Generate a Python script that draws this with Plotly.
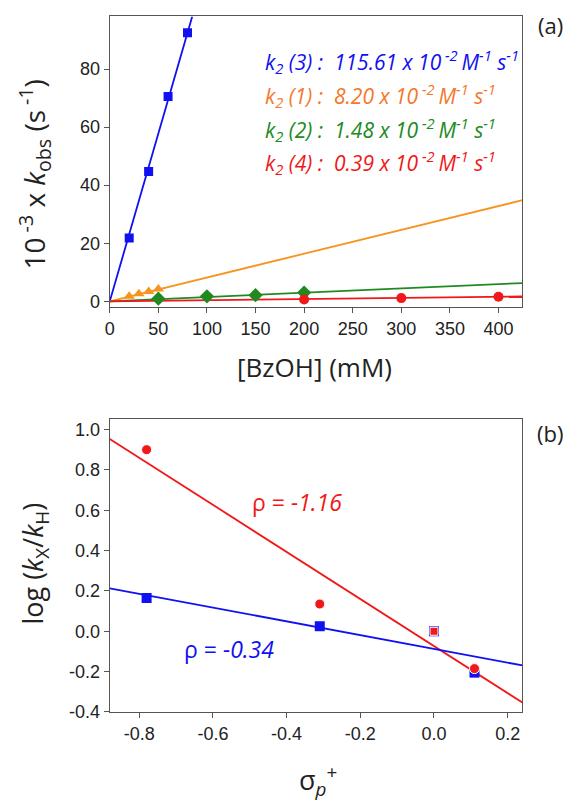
import numpy as np
import plotly.graph_objects as go

# ---------------- panel (a) data ----------------
bzoh_3 = [20, 40, 60, 80]
kobs_3 = [21.8, 44.7, 70.5, 92.5]
bzoh_1 = [20, 30, 40, 50]
kobs_1 = [1.7, 2.6, 3.4, 4.2]
bzoh_2 = [50, 100, 150, 200]
kobs_2 = [0.9, 1.7, 2.1, 3.0]
bzoh_4 = [200, 300, 400]
kobs_4 = [0.6, 1.1, 1.6]
k2_values = {"3": 115.61, "1": 8.20, "2": 1.48, "4": 0.39}   # x 10^-2 M^-1 s^-1

# ---------------- panel (b) data ----------------
sigma_p = [-0.78, -0.31, 0.0, 0.11]
log_red = [0.90, 0.135, 0.0, -0.185]
log_blue = [0.165, 0.025, 0.0, -0.205]
rho_red = -1.16
rho_blue = -0.34

BLUE = "#1010F0"
ORANGE = "#F7941D"
ORANGE_T = "#F5772A"
GREEN = "#208A20"
RED = "#F01818"
FRAME = "#555555"

XA_RANGE = [0, 424.6]
YA_RANGE = [-2.0, 98.1]
XB_RANGE = [-0.88, 0.24]
YB_RANGE = [-0.4, 1.052]

fig = go.Figure()

# fitted lines panel (a): y = k2/100 * x
for key, col in [("3", BLUE), ("1", ORANGE), ("2", GREEN), ("4", RED)]:
    s = k2_values[key] / 100.0
    xe = min(XA_RANGE[1], YA_RANGE[1] / s)
    xs = np.array([0.0, xe])
    fig.add_trace(go.Scatter(x=xs, y=s * xs, mode="lines", line=dict(color=col, width=1.8),
                             xaxis="x", yaxis="y", showlegend=False, hoverinfo="skip"))

fig.add_trace(go.Scatter(x=bzoh_1, y=kobs_1, mode="markers",
                         marker=dict(symbol="triangle-up", size=10, color=ORANGE, opacity=1), xaxis="x", yaxis="y", showlegend=False))
fig.add_trace(go.Scatter(x=bzoh_2, y=kobs_2, mode="markers",
                         marker=dict(symbol="diamond", size=11, color=GREEN, opacity=1), xaxis="x", yaxis="y", showlegend=False))
fig.add_trace(go.Scatter(x=bzoh_4, y=kobs_4, mode="markers",
                         marker=dict(symbol="circle", size=10, color=RED, opacity=1), xaxis="x", yaxis="y", showlegend=False))
fig.add_trace(go.Scatter(x=bzoh_3, y=kobs_3, mode="markers",
                         marker=dict(symbol="square", size=9, color=BLUE, opacity=1), xaxis="x", yaxis="y", showlegend=False))

# panel (b) fits
for ys, col in [(log_red, RED), (log_blue, BLUE)]:
    m, c = np.polyfit(sigma_p, ys, 1)
    xs = np.array(XB_RANGE)
    fig.add_trace(go.Scatter(x=xs, y=m * xs + c, mode="lines", line=dict(color=col, width=1.8),
                             xaxis="x2", yaxis="y2", showlegend=False, hoverinfo="skip"))

fig.add_trace(go.Scatter(x=sigma_p, y=log_blue, mode="markers",
                         marker=dict(symbol="square", size=10, color=BLUE, opacity=1), xaxis="x2", yaxis="y2", showlegend=False))
fig.add_trace(go.Scatter(x=sigma_p, y=log_red, mode="markers",
                         marker=dict(symbol=["circle", "circle", "square", "circle"], size=[10, 10, 8, 10], color=RED, opacity=1),
                         xaxis="x2", yaxis="y2", showlegend=False))

W, H = 567, 800
def px(x):
    return x / W
def py(y):
    return 1 - y / H

axis_common = dict(showline=True, linecolor=FRAME, linewidth=1.3, mirror=True, ticks="outside",
                   ticklen=5, tickwidth=1.2, tickcolor=FRAME, showgrid=False, zeroline=False,
                   tickfont=dict(family="Liberation Sans, Arial", size=18, color="#222222"))

fig.update_layout(
    width=W, height=H, autosize=False,
    margin=dict(l=0, r=0, t=0, b=0),
    paper_bgcolor="white", plot_bgcolor="white",
    xaxis=dict(domain=[px(105.7), px(522)], range=XA_RANGE, tickvals=list(range(0, 401, 50)),
               anchor="y", **axis_common),
    yaxis=dict(domain=[py(311), py(16.7)], range=YA_RANGE, tickvals=[0, 20, 40, 60, 80],
               anchor="x", **axis_common),
    xaxis2=dict(domain=[px(105.7), px(522)], range=XB_RANGE,
                tickvals=[-0.8, -0.6, -0.4, -0.2, 0.0, 0.2], ticktext=["-0.8", "-0.6", "-0.4", "-0.2", "0.0", "0.2"],
                anchor="y2", **axis_common),
    yaxis2=dict(domain=[py(721), py(424.3)], range=YB_RANGE,
                tickvals=[-0.4, -0.2, 0.0, 0.2, 0.4, 0.6, 0.8, 1.0],
                ticktext=["-0.4", "-0.2", "0.0", "0.2", "0.4", "0.6", "0.8", "1.0"],
                anchor="x2", **axis_common),
)

TF = "Open Sans, Noto Sans"
ann = []

def add(text, x, y, size, color="#222222", xanchor="center", yanchor="middle", angle=0):
    ann.append(dict(text=text, x=px(x), y=py(y), xref="paper", yref="paper", xanchor=xanchor,
                    yanchor=yanchor, showarrow=False, textangle=angle,
                    font=dict(family=TF, size=size, color=color)))

# k2 labels
labels = [("3", BLUE, "115.61", 62), ("1", ORANGE_T, "8.20", 97), ("2", GREEN, "1.48", 131), ("4", RED, "0.39", 165)]
for key, col, val, yy in labels:
    txt = ("<i>k<sub>2</sub> (%s) :&nbsp;&nbsp;%s x 10<sup> -2 </sup>M<sup>-1</sup> s<sup>-1</sup></i>" % (key, val))
    add(txt, 260, yy, 21, col, xanchor="left")

add("(a)", 550, 25, 22)
add("(b)", 550, 438, 22)

add("10<sup> -3</sup> x <i>k</i><sub>obs</sub> (s<sup> -1</sup>)", 30, 177, 28, angle=-90)
add("[BzOH] (mM)", 312, 372, 26)
add("log (<i>k</i><sub>X</sub>/<i>k</i><sub>H</sub>)", 30, 571, 27, angle=-90)
add("σ<sub><i>p</i></sub><sup>+</sup>", 316, 790, 27)

add("ρ = <i>-1.16</i>", 247, 508, 23, RED, xanchor="left")
add("ρ = <i>-0.34</i>", 179, 657, 23, BLUE, xanchor="left")

fig.update_layout(annotations=ann)
fig.write_html("out.html", config={"displayModeBar": False},
               post_script="document.body.style.margin='0';document.body.style.padding='0';"
                           "document.documentElement.style.overflow='hidden';document.body.style.overflow='hidden';")
